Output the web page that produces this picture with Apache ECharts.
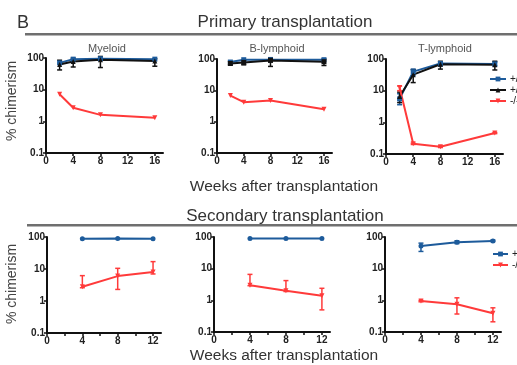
<!DOCTYPE html>
<html><head><meta charset="utf-8">
<script src="https://cdn.jsdelivr.net/npm/echarts@6/dist/echarts.min.js"></script>
<style>html,body{margin:0;padding:0;background:#fff}#c{width:517px;height:365px}</style>
</head><body><div id="c"></div>
<script>
// ---- data ----
const seriesNames = ['+/+', '+/-', '-/-'];
const panelTitles = ['Myeloid', 'B-lymphoid', 'T-lymphoid'];
const yTickLabels = ['0.1', '1', '10', '100'];
const primaryWeeks = [2, 4, 8, 16];
const primaryTicks = [0, 4, 8, 12, 16];
const secondaryWeeks = [4, 8, 12];
const secondaryTicks = [0, 4, 8, 12];
const secondaryMinorTicks = [0, 2, 4, 6, 8, 10, 12];

// Primary transplantation
const pMyeBlue = [70, 92, 95, 92];
const pMyeBlack = [62, 78, 88, 80];
const pMyeBlackLow = [42, 52, 50, 55];
const pMyeBlackHigh = [85, 98, 112, 95];
const pMyeRed = [7.2, 2.7, 1.6, 1.3];

const pBBlue = [80, 95, 95, 95];
const pBBlack = [72, 78, 90, 82];
const pBBlackLow = [65, 65, 58, 62];
const pBBlackHigh = [85, 92, 110, 100];
const pBRed = [6.8, 4.2, 4.7, 2.5];

const pTBlue = [5.5, 40, 72, 70];
const pTBlueLow = [3.6, 30, 60, 60];
const pTBlueHigh = [8, 48, 80, 80];
const pTBlack = [6.5, 32, 68, 66];
const pTBlackLow = [4.2, 18, 48, 45];
const pTBlackHigh = [9, 46, 85, 85];
const pTRed = [12.5, 0.21, 0.17, 0.46];
const pTRedLow = [10, 0.2, 0.16, 0.44];
const pTRedHigh = [14, 0.22, 0.18, 0.48];

// Secondary transplantation
const sMyeBlue = [88, 90, 88];
const sMyeRed = [2.8, 6.0, 8.0];
const sMyeRedLow = [2.6, 2.3, 7.0];
const sMyeRedHigh = [6.2, 10.5, 17];

const sBBlue = [90, 90, 90];
const sBRed = [3.0, 2.0, 1.4];
const sBRedLow = [2.9, 1.9, 0.5];
const sBRedHigh = [6.6, 4.2, 2.4];

const sTBlue = [52, 68, 75];
const sTBlueLow = [35, 62, 72];
const sTBlueHigh = [64, 76, 80];
const sTRed = [0.95, 0.75, 0.39];
const sTRedLow = [0.9, 0.37, 0.21];
const sTRedHigh = [1.0, 1.2, 0.58];

// ---- styles ----
const BLUE = '#1d5b9b', BLACK = '#111111', RED = '#ff3a3a';
const FONT = 'Liberation Sans, Arial, sans-serif';

const grids = [
  {left: 46, top: 58, width: 117, height: 95},
  {left: 217, top: 59, width: 115, height: 94},
  {left: 386, top: 59, width: 117, height: 95},
  {left: 47, top: 237, width: 114, height: 96},
  {left: 214, top: 237, width: 116, height: 95},
  {left: 385, top: 237, width: 116, height: 95}
];

const chart = echarts.init(document.getElementById('c'));

function xAxisFor(i) {
  const primary = i < 3;
  const max = primary ? 17.2 : 12.9;
  return {
    type: 'value', gridIndex: i, min: 0, max: max,
    axisLine: {show: true, onZero: false, lineStyle: {color: '#111', width: 2}},
    axisTick: {show: true, length: 3, lineStyle: {color: '#111', width: 1.5},
      customValues: primary ? primaryTicks : secondaryMinorTicks},
    axisLabel: {show: true, customValues: primary ? primaryTicks : secondaryTicks,
      color: '#222', fontFamily: FONT, fontSize: 10, fontWeight: 'bold', margin: 3},
    splitLine: {show: false}
  };
}
function yAxisFor(i) {
  return {
    type: 'log', logBase: 10, gridIndex: i, min: 0.1, max: 100,
    axisLine: {show: true, onZero: false, lineStyle: {color: '#111', width: 2}},
    axisTick: {show: true, length: 3, lineStyle: {color: '#111', width: 1.5}},
    axisLabel: {show: true, color: '#222', fontFamily: FONT, fontSize: 10, fontWeight: 'bold', margin: 2,
      formatter: function (v) {
        const idx = Math.round(Math.log10(v)) + 1;
        return yTickLabels[idx] !== undefined ? yTickLabels[idx] : '';
      }},
    splitLine: {show: false}
  };
}

function lineSeries(name, i, xs, ys, color, symbol, rotate) {
  return {
    name: name, type: 'line', xAxisIndex: i, yAxisIndex: i,
    data: xs.map((x, k) => [x, ys[k]]),
    symbol: symbol, symbolSize: 5, symbolRotate: rotate || 0,
    lineStyle: {color: color, width: 2}, itemStyle: {color: color},
    emphasis: {disabled: true}, animation: false, z: 3
  };
}
function errSeries(i, xs, lows, highs, color) {
  return {
    type: 'custom', xAxisIndex: i, yAxisIndex: i,
    data: xs.map((x, k) => [x, lows[k], highs[k]]),
    encode: {x: 0, y: [1, 2]},
    animation: false, z: 2, silent: true,
    renderItem: function (params, api) {
      const lo = api.coord([api.value(0), api.value(1)]);
      const hi = api.coord([api.value(0), api.value(2)]);
      const w = 2.5;
      const st = {stroke: color, lineWidth: 1.5};
      return {type: 'group', children: [
        {type: 'line', shape: {x1: lo[0], y1: lo[1], x2: hi[0], y2: hi[1]}, style: st},
        {type: 'line', shape: {x1: hi[0] - w, y1: hi[1], x2: hi[0] + w, y2: hi[1]}, style: st},
        {type: 'line', shape: {x1: lo[0] - w, y1: lo[1], x2: lo[0] + w, y2: lo[1]}, style: st}
      ]};
    }
  };
}

const series = [
  // Primary Myeloid
  errSeries(0, primaryWeeks, pMyeBlackLow, pMyeBlackHigh, BLACK),
  lineSeries(seriesNames[0], 0, primaryWeeks, pMyeBlue, BLUE, 'rect'),
  lineSeries(seriesNames[1], 0, primaryWeeks, pMyeBlack, BLACK, 'triangle'),
  lineSeries(seriesNames[2], 0, primaryWeeks, pMyeRed, RED, 'triangle', 180),
  // Primary B
  errSeries(1, primaryWeeks, pBBlackLow, pBBlackHigh, BLACK),
  lineSeries(seriesNames[0], 1, primaryWeeks, pBBlue, BLUE, 'rect'),
  lineSeries(seriesNames[1], 1, primaryWeeks, pBBlack, BLACK, 'rect'),
  lineSeries(seriesNames[2], 1, primaryWeeks, pBRed, RED, 'triangle', 180),
  // Primary T
  errSeries(2, primaryWeeks, pTBlueLow, pTBlueHigh, BLUE),
  errSeries(2, primaryWeeks, pTBlackLow, pTBlackHigh, BLACK),
  errSeries(2, primaryWeeks, pTRedLow, pTRedHigh, RED),
  lineSeries(seriesNames[0], 2, primaryWeeks, pTBlue, BLUE, 'rect'),
  lineSeries(seriesNames[1], 2, primaryWeeks, pTBlack, BLACK, 'triangle'),
  lineSeries(seriesNames[2], 2, primaryWeeks, pTRed, RED, 'triangle', 180),
  // Secondary Myeloid
  errSeries(3, secondaryWeeks, sMyeRedLow, sMyeRedHigh, RED),
  lineSeries(seriesNames[0], 3, secondaryWeeks, sMyeBlue, BLUE, 'circle'),
  lineSeries(seriesNames[2], 3, secondaryWeeks, sMyeRed, RED, 'triangle', 180),
  // Secondary B
  errSeries(4, secondaryWeeks, sBRedLow, sBRedHigh, RED),
  lineSeries(seriesNames[0], 4, secondaryWeeks, sBBlue, BLUE, 'circle'),
  lineSeries(seriesNames[2], 4, secondaryWeeks, sBRed, RED, 'triangle', 180),
  // Secondary T
  errSeries(5, secondaryWeeks, sTBlueLow, sTBlueHigh, BLUE),
  errSeries(5, secondaryWeeks, sTRedLow, sTRedHigh, RED),
  lineSeries(seriesNames[0], 5, secondaryWeeks, sTBlue, BLUE, 'circle'),
  lineSeries(seriesNames[2], 5, secondaryWeeks, sTRed, RED, 'triangle', 180)
];

const legendText = {fontFamily: FONT, fontSize: 10, color: '#222', padding: [0, 0, 0, -1]};
const titleStyle = {fontFamily: FONT, fontSize: 11, color: '#555', fontWeight: 'normal'};
const bigText = {fontFamily: FONT, fontSize: 17, color: '#333', fontWeight: 'normal'};

const option = {
  backgroundColor: '#fff',
  animation: false,
  grid: grids.map(g => Object.assign({containLabel: false}, g)),
  xAxis: [0, 1, 2, 3, 4, 5].map(xAxisFor),
  yAxis: [0, 1, 2, 3, 4, 5].map(yAxisFor),
  legend: [
    {data: seriesNames, orient: 'vertical', left: 489, top: 74, itemWidth: 16, itemHeight: 6,
     itemGap: 1, textStyle: legendText, selectedMode: false, padding: 0},
    {data: [seriesNames[0], seriesNames[2]], orient: 'vertical', left: 492, top: 249, itemWidth: 15, itemHeight: 6,
     itemGap: 1, textStyle: legendText, selectedMode: false, padding: 0}
  ],
  title: [
    {text: 'B', left: 12, top: 9, textStyle: {fontFamily: FONT, fontSize: 18, color: '#333', fontWeight: 'normal'}},
    {text: 'Primary transplantation', left: 280, textAlign: 'center', top: 9, textStyle: bigText},
    {text: 'Secondary transplantation', left: 280, textAlign: 'center', top: 203, textStyle: bigText},
    {text: panelTitles[0], left: 102, textAlign: 'center', top: 38, textStyle: titleStyle},
    {text: panelTitles[1], left: 272, textAlign: 'center', top: 38, textStyle: titleStyle},
    {text: panelTitles[2], left: 440, textAlign: 'center', top: 38, textStyle: titleStyle},
    {text: 'Weeks after transplantation', left: 279, textAlign: 'center', top: 174,
     textStyle: {fontFamily: FONT, fontSize: 15.5, color: '#333', fontWeight: 'normal'}},
    {text: 'Weeks after transplantation', left: 279, textAlign: 'center', top: 343,
     textStyle: {fontFamily: FONT, fontSize: 15.5, color: '#333', fontWeight: 'normal'}}
  ],
  graphic: [
    {type: 'rect', shape: {x: 25, y: 33, width: 492, height: 2.5}, style: {fill: '#6f6f6f'}},
    {type: 'rect', shape: {x: 27, y: 224, width: 490, height: 2.5}, style: {fill: '#6f6f6f'}},
    {type: 'text', x: 12, y: 101, rotation: Math.PI / 2,
     style: {text: '% chimerism', fontFamily: FONT, fontSize: 14, fill: '#444', align: 'center', verticalAlign: 'middle'}},
    {type: 'text', x: 12, y: 284, rotation: Math.PI / 2,
     style: {text: '% chimerism', fontFamily: FONT, fontSize: 14, fill: '#444', align: 'center', verticalAlign: 'middle'}}
  ],
  series: series
};
chart.setOption(option);
</script></body></html>
